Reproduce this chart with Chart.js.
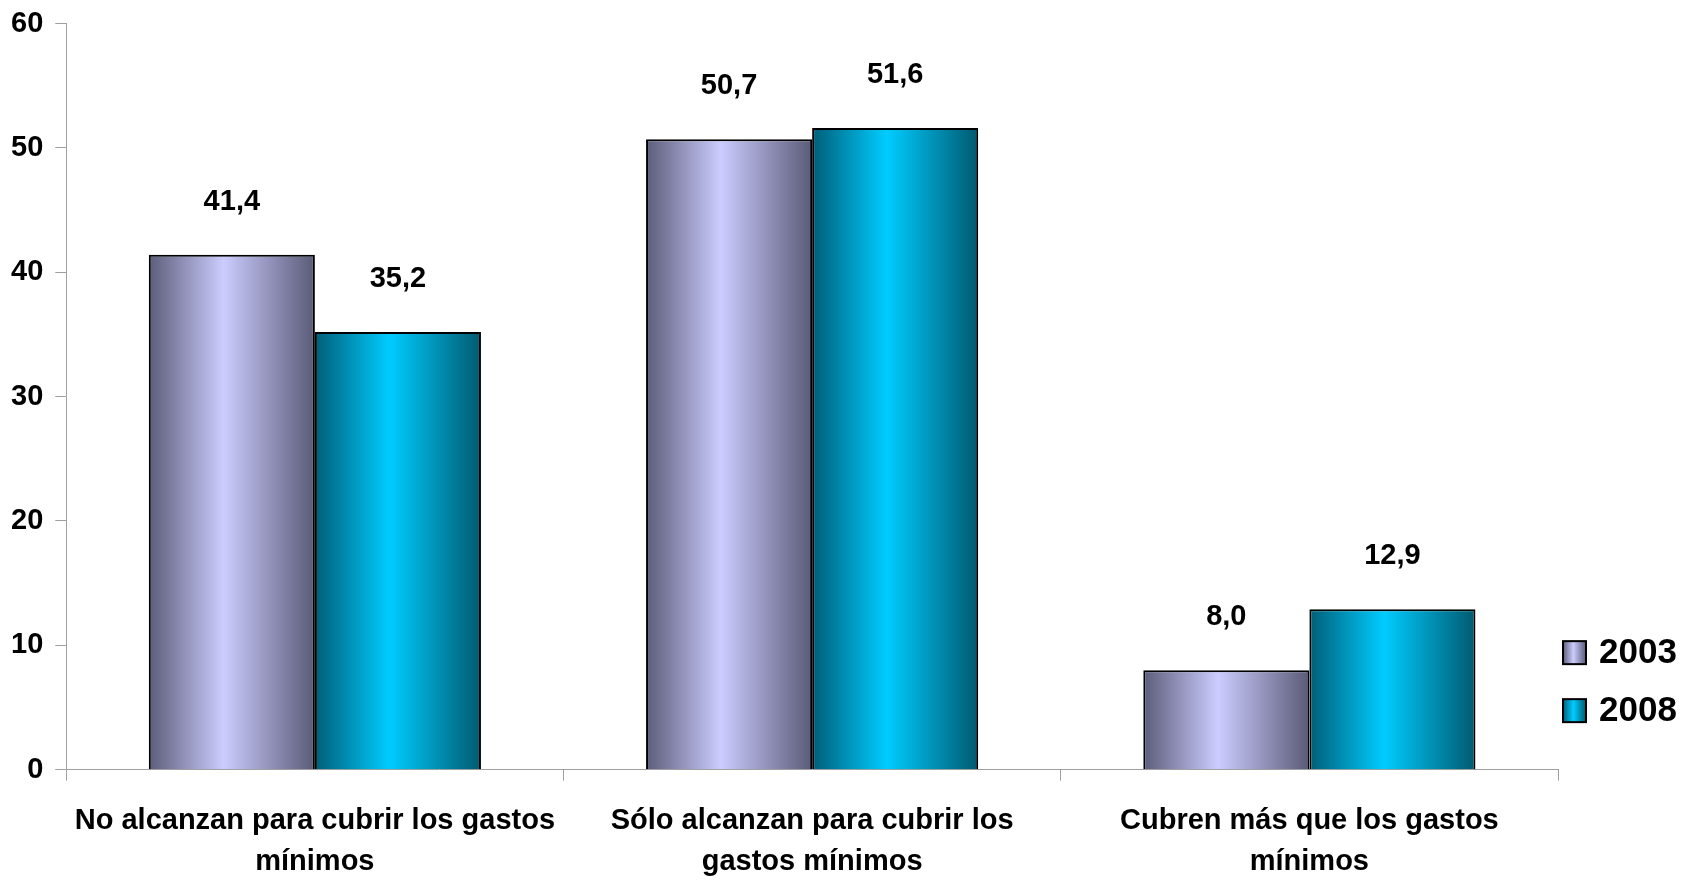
<!DOCTYPE html>
<html>
<head>
<meta charset="utf-8">
<script src="https://cdn.jsdelivr.net/npm/chart.js@4"></script>
<style>
  html, body { margin: 0; padding: 0; background: #fff; }
  #wrap { width: 1691px; height: 880px; }
</style>
</head>
<body>
<div id="wrap"><canvas id="chart"></canvas></div>
<script>
const categories = [
  ['No alcanzan para cubrir los gastos', 'mínimos'],
  ['Sólo alcanzan para cubrir los', 'gastos mínimos'],
  ['Cubren más que los gastos', 'mínimos']
]
const seriesNames = ['2003', '2008']
const values2003 = [41.4, 50.7, 8.0]
const values2008 = [35.2, 51.6, 12.9]
const yTicks = [0, 10, 20, 30, 40, 50, 60]

// dark edge -> light middle -> dark edge, like the old office 3d bars
const stops2003 = ['#5c5c7a', '#ccccff', '#5a5a78']
const stops2008 = ['#005e78', '#00ccff', '#005a70']
const CAT_PCT = 0.668

function gradient(ctx, left, width, stops) {
  const g = ctx.createLinearGradient(left, 0, left + width, 0)
  g.addColorStop(0, stops[0])
  g.addColorStop(0.45, stops[1])
  g.addColorStop(1, stops[2])
  return g
}

function barFill(stops) {
  return (c) => {
    const chart = c.chart
    const x = chart.scales.x
    if (!x || c.dataIndex === undefined) return stops[1]
    const catW = x.width / chart.data.labels.length
    const groupW = catW * CAT_PCT
    const barW = groupW / chart.data.datasets.length
    const left = x.getPixelForValue(c.dataIndex) - groupW / 2 + c.datasetIndex * barW
    if (!isFinite(left) || !isFinite(barW) || barW <= 0) return stops[1]
    return gradient(chart.ctx, left, barW, stops)
  }
}

const FONT = '"Liberation Sans", Arial, sans-serif'
Chart.defaults.font.family = FONT
Chart.defaults.font.weight = 'bold'
Chart.defaults.color = '#000'

// value labels above the bars, comma decimals
const valueLabels = {
  id: 'valueLabels',
  afterDatasetsDraw(chart) {
    const ctx = chart.ctx
    ctx.save()
    ctx.font = 'bold 29px ' + FONT
    ctx.fillStyle = '#000'
    ctx.textAlign = 'center'
    ctx.textBaseline = 'middle'
    chart.data.datasets.forEach((ds, i) => {
      chart.getDatasetMeta(i).data.forEach((bar, j) => {
        const txt = ds.data[j].toFixed(1).replace('.', ',')
        ctx.fillText(txt, bar.x, bar.y - 53)
      })
    })
    ctx.restore()
  }
}

// legend at the lower right, beside the plot
const sideLegend = {
  id: 'sideLegend',
  afterDraw(chart) {
    const ctx = chart.ctx
    const area = chart.chartArea
    const stops = [stops2003, stops2008]
    ctx.save()
    ctx.font = 'bold 35px ' + FONT
    ctx.textBaseline = 'middle'
    chart.data.datasets.forEach((ds, i) => {
      const y = area.bottom - 117 + i * 58
      const bx = area.right + 5
      ctx.fillStyle = gradient(ctx, bx, 23, stops[i])
      ctx.fillRect(bx, y - 11.5, 23, 23)
      ctx.lineWidth = 2
      ctx.strokeStyle = '#000'
      ctx.strokeRect(bx, y - 11.5, 23, 23)
      ctx.fillStyle = '#000'
      ctx.fillText(ds.label, bx + 36, y + 1)
    })
    ctx.restore()
  }
}

const ctx = document.getElementById('chart').getContext('2d')
const myChart = new Chart(ctx, {
  type: 'bar',
  data: {
    labels: categories,
    datasets: [{
      label: seriesNames[0],
      data: values2003,
      backgroundColor: barFill(stops2003),
      borderColor: '#000',
      borderWidth: 2
    }, {
      label: seriesNames[1],
      data: values2008,
      backgroundColor: barFill(stops2008),
      borderColor: '#000',
      borderWidth: 2
    }]
  },
  options: {
    responsive: true,
    maintainAspectRatio: false,
    animation: false,
    datasets: {
      bar: { categoryPercentage: CAT_PCT, barPercentage: 1 }
    },
    layout: { padding: { left: -1, right: 133, top: 0, bottom: -23 } },
    plugins: {
      legend: { display: false },
      tooltip: { enabled: false }
    },
    scales: {
      x: {
        grid: { drawOnChartArea: false, tickLength: 11, color: '#a0a0a0', offset: true },
        border: { color: '#a0a0a0' },
        ticks: {
          font: { size: 29, weight: 'bold', lineHeight: 1.42 },
          color: '#000',
          padding: 20,
          maxRotation: 0,
          autoSkip: false
        }
      },
      y: {
        min: yTicks[0],
        max: yTicks[yTicks.length - 1],
        afterBuildTicks: (scale) => { scale.ticks = yTicks.map(v => ({ value: v })) },
        grid: { drawOnChartArea: false, tickLength: 11, color: '#a0a0a0' },
        border: { color: '#a0a0a0' },
        ticks: {
          font: { size: 29, weight: 'bold', lineHeight: 0.8 },
          color: '#000',
          padding: 12
        }
      }
    }
  },
  plugins: [valueLabels, sideLegend]
})
</script>
</body>
</html>
